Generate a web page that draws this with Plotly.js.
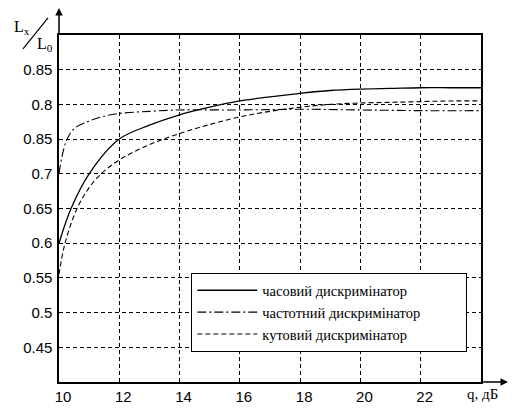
<!DOCTYPE html>
<html>
<head>
<meta charset="utf-8">
<script src="https://cdn.plot.ly/plotly-3.0.1.min.js"></script>
<style>html,body{margin:0;padding:0;background:#fff;}#chart{width:514px;height:409px;}</style>
</head>
<body>
<div id="chart"></div>
<script>
// Series names
const seriesNames = ["часовий дискримінатор", "частотний дискримінатор", "кутовий дискримінатор"];

// Time discriminator (solid)
const qTime = [10, 10.4, 11, 12, 13, 14, 15, 16, 17, 18, 19, 20, 21, 22, 23, 24];
const lTime = [0.600, 0.650, 0.700, 0.750, 0.770, 0.785, 0.796, 0.805, 0.811, 0.816, 0.820, 0.822, 0.823, 0.824, 0.824, 0.824];

// Frequency discriminator (dash-dot)
const qFreq = [10, 10.1, 10.25, 10.5, 11, 11.5, 12, 13, 14, 16, 18, 20, 22, 24];
const lFreq = [0.700, 0.725, 0.748, 0.765, 0.776, 0.783, 0.787, 0.790, 0.792, 0.792, 0.793, 0.792, 0.791, 0.791];

// Angle discriminator (dashed)
const qAngle = [10, 10.2, 10.6, 11, 11.4, 12, 13, 14, 15, 16, 17, 18, 19, 20, 21, 22, 23, 24];
const lAngle = [0.555, 0.600, 0.650, 0.680, 0.700, 0.720, 0.742, 0.758, 0.771, 0.782, 0.790, 0.796, 0.800, 0.802, 0.803, 0.804, 0.805, 0.805];

// Axis ticks
const xTickVals = [10, 12, 14, 16, 18, 20, 22];
const xTickText = ["10", "12", "14", "16", "18", "20", "22"];
const yTickVals = [0.45, 0.5, 0.55, 0.6, 0.65, 0.7, 0.75, 0.8, 0.85];
const yTickText = ["0.45", "0.5", "0.55", "0.6", "0.65", "0.7", "0.85", "0.8", "0.85"];

const serif = "Liberation Serif, Times New Roman, serif";
const sans = "Liberation Sans, Arial, sans-serif";

const traces = [
  {x: qTime, y: lTime, name: seriesNames[0], mode: "lines",
   line: {color: "#000", width: 1.3, shape: "spline", dash: "solid"}},
  {x: qFreq, y: lFreq, name: seriesNames[1], mode: "lines",
   line: {color: "#000", width: 1.1, shape: "spline", dash: "9px,3px,2px,3px"}},
  {x: qAngle, y: lAngle, name: seriesNames[2], mode: "lines",
   line: {color: "#000", width: 1.1, shape: "spline", dash: "5px,3px"}}
];

const layout = {
  width: 514, height: 409,
  margin: {l: 59, r: 33, t: 35, b: 27, autoexpand: false},
  paper_bgcolor: "#fff", plot_bgcolor: "#fff",
  showlegend: true,
  legend: {
    orientation: "h",
    x: 0.3128, y: 0.314, xanchor: "left", yanchor: "top",
    bgcolor: "#fff", bordercolor: "#000", borderwidth: 1.3,
    font: {family: serif, size: 14.5, color: "#000"},
    tracegroupgap: 0, itemwidth: 60, entrywidth: 198, entrywidthmode: "pixels"
  },
  xaxis: {
    range: [10, 24], tickvals: xTickVals, ticktext: xTickText,
    showgrid: true, gridcolor: "#000", gridwidth: 1, griddash: "4px,3px",
    showline: true, linecolor: "#000", linewidth: 1.6, mirror: true,
    ticks: "", zeroline: false, ticklabelshift: 4, automargin: false,
    tickfont: {family: sans, size: 15, color: "#000"}
  },
  yaxis: {
    range: [0.4, 0.9], tickvals: yTickVals, ticktext: yTickText,
    showgrid: true, gridcolor: "#000", gridwidth: 1, griddash: "4px,3px",
    showline: true, linecolor: "#000", linewidth: 1.6, mirror: true,
    ticks: "", zeroline: false, ticklabelstandoff: 2, automargin: false,
    tickfont: {family: sans, size: 15, color: "#000"}
  },
  shapes: [
    {type: "line", xref: "paper", yref: "paper", x0: -0.0853, y0: 0.960, x1: -0.026, y1: 1.049,
     line: {color: "#000", width: 1.2}}
  ],
  annotations: [
    {xref: "paper", yref: "paper", x: 0, y: 1.078, ax: 0, ay: 27, axref: "pixel", ayref: "pixel",
     text: "", showarrow: true, arrowhead: 2, arrowsize: 1, arrowwidth: 1.5, arrowcolor: "#000"},
    {xref: "paper", yref: "paper", x: 1.064, y: 0, ax: -27, ay: 0,
     text: "", showarrow: true, arrowhead: 2, arrowsize: 1, arrowwidth: 1.5, arrowcolor: "#000"},
    {xref: "paper", yref: "paper", x: -0.1114, y: 1.0548, xanchor: "left", yanchor: "top", showarrow: false,
     text: "L<sub>x</sub>", font: {family: serif, size: 16, color: "#000"}},
    {xref: "paper", yref: "paper", x: -0.0569, y: 1.0058, xanchor: "left", yanchor: "top", showarrow: false,
     text: "L<sub>0</sub>", font: {family: serif, size: 16, color: "#000"}},
    {xref: "paper", yref: "paper", x: 1.044, y: -0.064, showarrow: false,
     text: "q, дБ", font: {family: serif, size: 15, color: "#000"}}
  ]
};

Plotly.newPlot("chart", traces, layout, {displayModeBar: false, staticPlot: true});
</script>
</body>
</html>
